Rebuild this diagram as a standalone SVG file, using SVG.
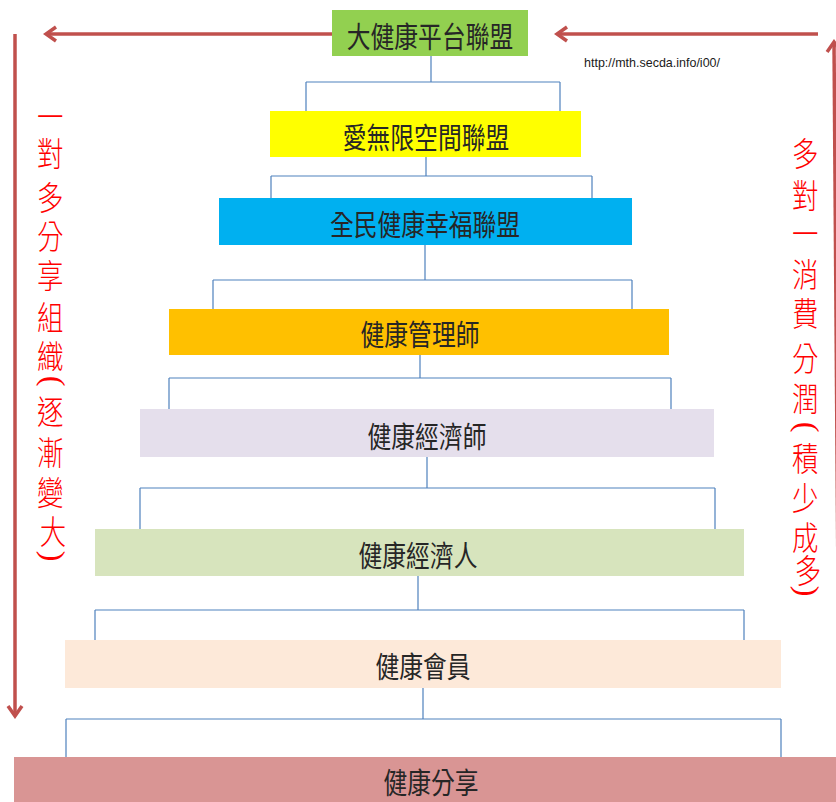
<svg xmlns="http://www.w3.org/2000/svg" width="836" height="802" viewBox="0 0 836 802">
<defs>
<style>
.box{stroke:none}
.lbl{font-family:"Noto Sans CJK TC","Noto Sans CJK SC",sans-serif;font-size:29px;fill:#262626;text-anchor:middle;dominant-baseline:central}
.conn{fill:none;stroke:#4f81bd;stroke-width:1.2}
.arrow{fill:none;stroke:#c0504d;stroke-width:3.5}
.vt{font-family:"Noto Sans CJK TC","Noto Sans CJK SC",sans-serif;font-size:33px;font-weight:300;fill:#ff0000;text-anchor:middle;dominant-baseline:central}
.par{font-family:"Liberation Serif","DejaVu Serif",serif;font-size:32px;fill:#ff0000;text-anchor:middle;dominant-baseline:central}
.url{font-family:"Liberation Sans","DejaVu Sans",sans-serif;font-size:13px;fill:#1a1a1a}
</style>
<marker id="ah" viewBox="-13 -9 16 18" refX="0" refY="0" markerWidth="16" markerHeight="18" markerUnits="userSpaceOnUse" orient="auto">
<path d="M -10 -7 L 0 0 L -10 7" fill="none" stroke="#c0504d" stroke-width="3.5" stroke-linejoin="miter"/>
</marker>
</defs>
<rect width="836" height="802" fill="#ffffff"/>

<g id="connectors">
<path class="conn" d="M431 56 V82 M306 82 H560 M306 82 V111 M560 82 V111"/>
<path class="conn" d="M426 157 V176 M271 176 H592 M271 176 V198 M592 176 V198"/>
<path class="conn" d="M425 245 V280 M213 280 H632 M213 280 V309 M632 280 V309"/>
<path class="conn" d="M420 355 V378 M169 378 H671 M169 378 V409 M671 378 V409"/>
<path class="conn" d="M427 457 V488 M140 488 H715 M140 488 V529 M715 488 V529"/>
<path class="conn" d="M418 576 V610 M95 610 H744 M95 610 V640 M744 610 V640"/>
<path class="conn" d="M423 688 V719 M66 719 H781 M66 719 V757 M781 719 V757"/>
<line class="arrow" x1="332" y1="34" x2="46" y2="34" marker-end="url(#ah)"/>
<line class="arrow" x1="818" y1="34" x2="557" y2="34" marker-end="url(#ah)"/>
<line class="arrow" x1="15" y1="34" x2="15" y2="716" marker-end="url(#ah)"/>
<line class="arrow" x1="839" y1="720" x2="834" y2="42" marker-end="url(#ah)"/>
</g>

<g id="n1">
<rect class="box" x="332" y="10" width="196" height="46" fill="#92d050"/>
<text class="lbl" transform="translate(430,35) scale(0.82,1)">大健康平台聯盟</text>
</g>
<g id="n2">
<rect class="box" x="270" y="111" width="311" height="46" fill="#ffff00"/>
<text class="lbl" transform="translate(426,136) scale(0.82,1)">愛無限空間聯盟</text>
</g>
<g id="n3">
<rect class="box" x="219" y="198" width="413" height="47" fill="#00b0f0"/>
<text class="lbl" transform="translate(425,223) scale(0.82,1)">全民健康幸福聯盟</text>
</g>
<g id="n4">
<rect class="box" x="169" y="309" width="500" height="46" fill="#ffc000"/>
<text class="lbl" transform="translate(420,333) scale(0.82,1)">健康管理師</text>
</g>
<g id="n5">
<rect class="box" x="140" y="409" width="574" height="48" fill="#e5dfec"/>
<text class="lbl" transform="translate(427,435) scale(0.82,1)">健康經濟師</text>
</g>
<g id="n6">
<rect class="box" x="95" y="529" width="649" height="47" fill="#d7e4bd"/>
<text class="lbl" transform="translate(418,554) scale(0.82,1)">健康經濟人</text>
</g>
<g id="n7">
<rect class="box" x="65" y="640" width="716" height="48" fill="#fde9d9"/>
<text class="lbl" transform="translate(423,665) scale(0.82,1)">健康會員</text>
</g>
<g id="n8">
<rect class="box" x="14" y="757" width="830" height="50" fill="#d99594"/>
<text class="lbl" transform="translate(431,781) scale(0.82,1)">健康分享</text>
</g>

<text class="url" x="584" y="67" textLength="136" lengthAdjust="spacingAndGlyphs">http://mth.secda.info/i00/</text>

<g id="left-label">
<g transform="translate(53,0) scale(0.8,1)">
<text class="vt">
<tspan x="0" y="115">一</tspan>
<tspan x="0" y="152">對</tspan>
<tspan x="0" y="196">多</tspan>
<tspan x="0" y="235">分</tspan>
<tspan x="0" y="274">享</tspan>
<tspan x="0" y="316">組</tspan>
<tspan x="0" y="355">織</tspan>
<tspan x="0" y="410">逐</tspan>
<tspan x="0" y="451">漸</tspan>
<tspan x="0" y="491">變</tspan>
<tspan x="0" y="530">大</tspan>
</text>
</g>
<text class="par" transform="translate(54,381) rotate(90)">(</text>
<text class="par" transform="translate(54,556) rotate(90)">)</text>
</g>
<g id="right-label">
<g transform="translate(808,0) scale(0.8,1)">
<text class="vt">
<tspan x="0" y="152">多</tspan>
<tspan x="0" y="194">對</tspan>
<tspan x="0" y="232">一</tspan>
<tspan x="0" y="273">消</tspan>
<tspan x="0" y="312">費</tspan>
<tspan x="0" y="357">分</tspan>
<tspan x="0" y="397">潤</tspan>
<tspan x="0" y="457">積</tspan>
<tspan x="0" y="497">少</tspan>
<tspan x="0" y="536">成</tspan>
<tspan x="0" y="569">多</tspan>
</text>
</g>
<text class="par" transform="translate(808,427) rotate(90)">(</text>
<text class="par" transform="translate(808,591) rotate(90)">)</text>
</g>
</svg>
